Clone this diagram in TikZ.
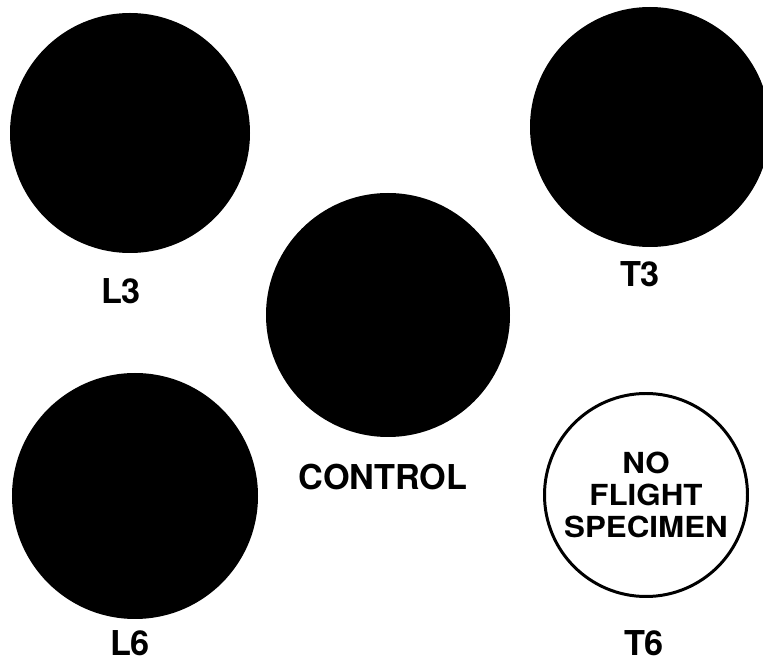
\documentclass[tikz,border=0pt]{standalone}
\usepackage{fontspec}
\setmainfont{TeX Gyre Heros}
\newfontfamily\widesans[FakeStretch=1.08]{TeX Gyre Heros}
\usetikzlibrary{positioning}

\begin{document}
\begin{tikzpicture}[
    disc/.style={circle, fill=black, inner sep=0pt, minimum size=#1},
    blankdisc/.style={circle, draw, line width=1.7pt, fill=white, inner sep=0pt, minimum size=4.06cm, align=center, font=\widesans\fontsize{16.5}{18.4}\selectfont\bfseries},
    tag/.style={inner sep=0pt, font=\fontsize{19.5}{23}\selectfont\bfseries}
]
    \useasboundingbox (0,0) rectangle (15.26,13.24);

    % Specimens
    \node[disc=4.80cm] (l3) at (2.60,10.58) {};
    \node[disc=4.80cm] (t3) at (13.00,10.70) {};
    \node[disc=4.88cm] (ctrl) at (7.76,6.94) {};
    \node[disc=4.92cm] (l6) at (2.70,3.32) {};
    \node[blankdisc] (t6) at (12.92,3.34) {NO\\FLIGHT\\SPECIMEN};

    % Labels
    \node[tag] (l3lbl) at (2.42,7.42) {L3};
    \node[tag] (t3lbl) at (12.80,7.76) {T3};
    \node[tag] (ctrllbl) at (7.66,3.70) {CONTROL};
    \node[tag] (l6lbl) at (2.60,0.37) {L6};
    \node[tag] (t6lbl) at (12.88,0.37) {T6};

\end{tikzpicture}
\end{document}
